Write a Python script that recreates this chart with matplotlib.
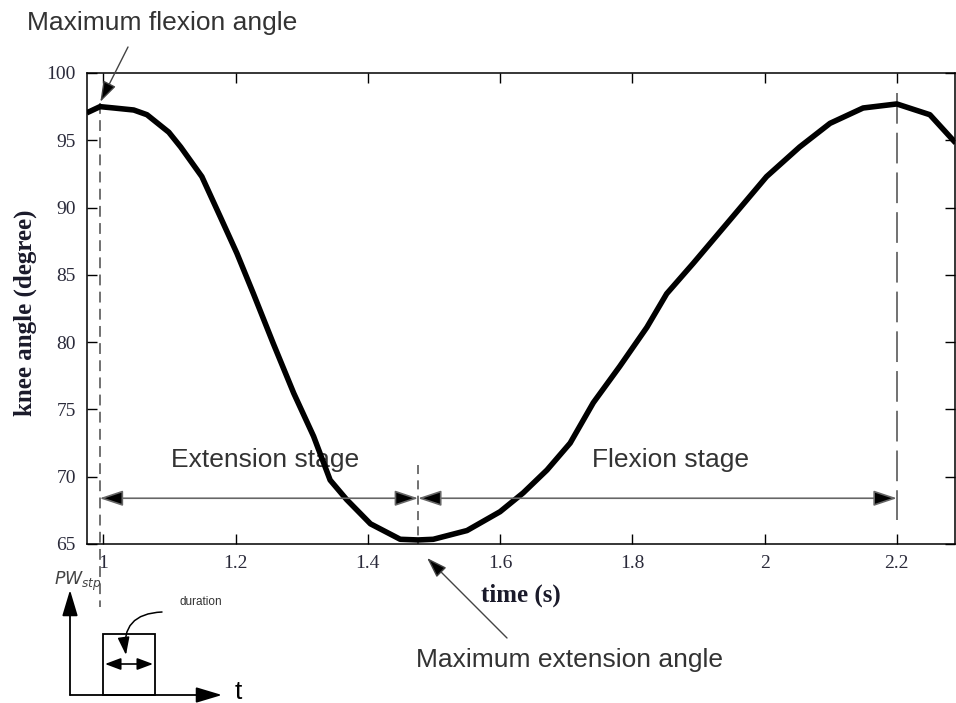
import matplotlib
matplotlib.use("Agg")
import matplotlib.pyplot as plt
from matplotlib.patches import FancyArrowPatch, Rectangle, ArrowStyle

# ---- data ----
time_s = [0.975, 0.995, 1.016, 1.046, 1.066, 1.099, 1.117, 1.149, 1.177, 1.202,
          1.227, 1.257, 1.288, 1.318, 1.343, 1.368, 1.404, 1.449, 1.476, 1.499,
          1.550, 1.600, 1.635, 1.671, 1.706, 1.741, 1.781, 1.822, 1.852, 1.892,
          1.948, 2.003, 2.053, 2.099, 2.149, 2.200, 2.250, 2.289]
knee_deg = [97.04, 97.5, 97.4, 97.25, 96.9, 95.6, 94.5, 92.3, 89.3, 86.6,
            83.6, 79.9, 76.2, 73.0, 69.75, 68.3, 66.5, 65.35, 65.3, 65.35,
            66.0, 67.4, 68.8, 70.5, 72.5, 75.5, 78.2, 81.1, 83.6, 85.85,
            89.1, 92.3, 94.5, 96.26, 97.4, 97.7, 96.9, 94.8]
x_ticks = [1, 1.2, 1.4, 1.6, 1.8, 2, 2.2]
x_tick_labels = ["1", "1.2", "1.4", "1.6", "1.8", "2", "2.2"]
y_ticks = [65, 70, 75, 80, 85, 90, 95, 100]

t_max_flex1 = 0.9945
t_max_ext = 1.476
t_max_flex2 = 2.2
stage_y = 68.4

W, H = 956, 703
fig = plt.figure(figsize=(W / 100, H / 100), dpi=100)
fig.patch.set_facecolor("white")

def fx(px):
    return px / W

def fy(py):
    return 1 - py / H

ax = fig.add_axes([fx(87), fy(544), fx(955) - fx(87), fy(73) - fy(544)])
ax.plot(time_s, knee_deg, color="black", lw=4.0, solid_joinstyle="round",
        solid_capstyle="butt", zorder=3)
ax.set_xlim(0.9753, 2.288)
ax.set_ylim(65, 100)
ax.set_xticks(x_ticks)
ax.set_xticklabels(x_tick_labels)
ax.set_yticks(y_ticks)
ax.tick_params(direction="in", length=7, width=1.0, top=True, right=True,
               labelsize=14, labelcolor="#2a2a3a", pad=8)
for lab in ax.get_xticklabels() + ax.get_yticklabels():
    lab.set_fontfamily("Liberation Serif")
for sp in ax.spines.values():
    sp.set_linewidth(1.1)

ax.set_xlabel("time (s)", fontfamily="Liberation Serif", fontweight="bold",
              fontsize=18, color="#1a1a2a")
ax.xaxis.set_label_coords(0.5, -0.108)
ax.xaxis.label.set_va("center")
ax.set_ylabel("knee angle (degree)", fontfamily="Liberation Serif", fontweight="bold",
              fontsize=18, color="#1a1a2a")
ax.yaxis.set_label_coords(-0.0714, 0.49)
ax.yaxis.label.set_va("center")

# dashed markers
ax.plot([t_max_flex1, t_max_flex1], [97.8, 60.3], color="#666666", lw=1.3,
        linestyle=(0, (6, 3.5)), clip_on=False, zorder=2)
ax.plot([t_max_ext, t_max_ext], [70.9, 65], color="#666666", lw=1.3,
        linestyle=(0, (5, 3.5)), clip_on=False, zorder=2)
ax.plot([t_max_flex2, t_max_flex2], [98.5, 66.8], color="#666666", lw=1.3,
        linestyle=(0, (17, 5)), clip_on=False, zorder=2)

# stage arrows
head = ArrowStyle("<|-|>", head_length=0.72, head_width=0.24)
for a, b in [(t_max_flex1, t_max_ext), (t_max_ext, t_max_flex2)]:
    ax.annotate("", xy=(b, stage_y), xytext=(a, stage_y),
                arrowprops=dict(arrowstyle=head, mutation_scale=20, lw=1.2,
                                facecolor="black", edgecolor="#666666",
                                shrinkA=0, shrinkB=0), zorder=4)

sans = "Liberation Sans"
txtc = "#333333"
ax.text(1.2446, 71.24, "Extension stage", fontfamily=sans, fontsize=19, color=txtc,
        ha="center", va="center", zorder=1)
ax.text(1.857, 71.24, "Flexion stage", fontfamily=sans, fontsize=19, color=txtc,
        ha="center", va="center", zorder=1)

# annotations
small_head = ArrowStyle("-|>", head_length=0.9, head_width=0.3)
fig.text(fx(162), fy(23), "Maximum flexion angle", fontfamily=sans, fontsize=19,
         color=txtc, ha="center", va="center")
ax.annotate("", xy=(t_max_flex1 + 0.001, 97.86), xycoords="data",
            xytext=(fx(128), fy(47)), textcoords="figure fraction",
            arrowprops=dict(arrowstyle=small_head, mutation_scale=14, lw=1.0,
                            facecolor="black", edgecolor="#444444",
                            shrinkA=0, shrinkB=0), annotation_clip=False)

fig.text(fx(569), fy(660), "Maximum extension angle", fontfamily=sans, fontsize=19,
         color=txtc, ha="center", va="center")
ax.annotate("", xy=(1.4896, 63.96), xycoords="data",
            xytext=(fx(507), fy(638)), textcoords="figure fraction",
            arrowprops=dict(arrowstyle=small_head, mutation_scale=14, lw=1.0,
                            facecolor="black", edgecolor="#444444",
                            shrinkA=0, shrinkB=0), annotation_clip=False)

# pulse-width inset sketch (figure coordinates)
big_head = ArrowStyle("-|>", head_length=1.0, head_width=0.3)
for (x0, y0, x1, y1) in [(70, 695, 70, 590), (70, 695, 222, 695)]:
    fig.patches.append(FancyArrowPatch((fx(x0), fy(y0)), (fx(x1), fy(y1)),
                                       transform=fig.transFigure,
                                       arrowstyle=big_head, mutation_scale=16,
                                       lw=1.3, color="black", shrinkA=0, shrinkB=0))
fig.patches.append(Rectangle((fx(103.3), fy(695)), fx(155) - fx(103.3), fy(634) - fy(695),
                             transform=fig.transFigure, fill=False, lw=1.3,
                             edgecolor="black"))
dur_head = ArrowStyle("<|-|>", head_length=0.8, head_width=0.3)
fig.patches.append(FancyArrowPatch((fx(105), fy(664)), (fx(153), fy(664)),
                                   transform=fig.transFigure, arrowstyle=dur_head,
                                   mutation_scale=12, lw=1.2, color="black",
                                   shrinkA=0, shrinkB=0))
fig.patches.append(FancyArrowPatch((fx(162), fy(612)), (fx(126), fy(655)),
                                   transform=fig.transFigure, arrowstyle=small_head,
                                   connectionstyle="arc3,rad=0.55",
                                   mutation_scale=12, lw=1.1, color="black",
                                   shrinkA=0, shrinkB=0))
fig.text(fx(201), fy(602), "duration", fontfamily=sans, fontsize=8.5, color=txtc,
         ha="center", va="center")
fig.text(fx(78), fy(581), r"$PW_{stp}$", fontsize=12.5, color="#444444",
         ha="center", va="center")
fig.text(fx(238), fy(692), "t", fontfamily=sans, fontsize=19, color="black",
         ha="center", va="center")

fig.savefig("out.png", dpi=100, facecolor="white")
